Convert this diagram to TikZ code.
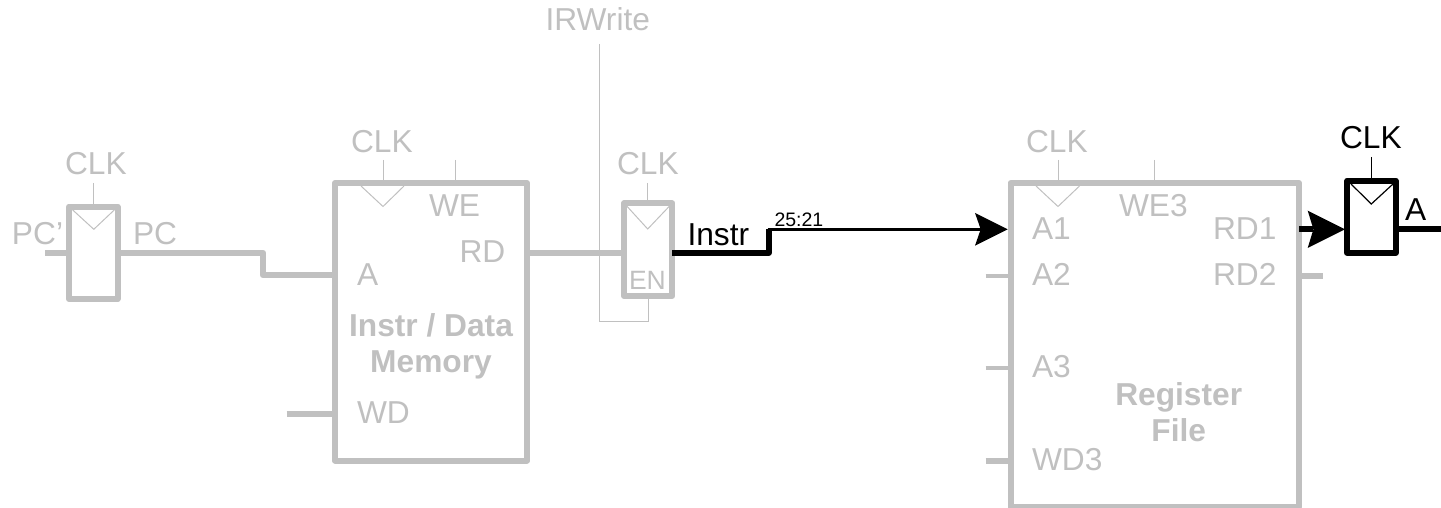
\documentclass[tikz,border=0pt]{standalone}
\usepackage{fontspec}
\setmainfont{Liberation Sans}
\usetikzlibrary{arrows.meta}
\definecolor{dim}{HTML}{C0C0C0}
\tikzset{
  x=1pt,y=-1pt,
  boxbase/.style={draw,rectangle,inner sep=0pt,outer sep=0pt,line width=6pt,line join=round,anchor=north west},
  greybox/.style={boxbase,draw=dim},
  blackbox/.style={boxbase,draw=black},
  wire/.style={dim,line width=6pt,line join=round},
  midwire/.style={dim,line width=3.6pt},
  hair/.style={dim,line width=1pt,line join=miter},
  blackhair/.style={black,line width=1.2pt,line join=miter},
  lab/.style={anchor=base west,inner sep=0pt,outer sep=0pt,font=\fontsize{31.7}{36}\selectfont,text=dim},
  blab/.style={lab,text=black},
  titlelab/.style={anchor=base,inner sep=0pt,outer sep=0pt,font=\fontsize{31.7}{36}\selectfont\bfseries,text=dim},
  bigtip/.style={-{Stealth[length=#1,width=#1,inset=5.7pt,line width=0pt]}}
}
\begin{document}
\begin{tikzpicture}
\useasboundingbox (0,0) rectangle (1441,508);
% boxes
\node[greybox,minimum width=48.5pt,minimum height=92.5pt] (pcreg) at (69,206.5) {};
\node[greybox,minimum width=192pt,minimum height=277.5pt] (mem) at (335,183) {};
\node[greybox,minimum width=48.3pt,minimum height=92.7pt] (irreg) at (624,203.3) {};
\node[greybox,minimum width=288.5pt,minimum height=324pt] (rf) at (1010.5,183) {};
\node[blackbox,minimum width=48.4pt,minimum height=72pt] (areg) at (1347.3,180.7) {};
% free ends
\coordinate (pcin) at (45,252.7);
\coordinate (bend1) at (263,252.7);
\coordinate (bend2) at (263,275.4);
\coordinate (wdin) at (286.5,414);
\coordinate (rdy) at (560,252.7);
\coordinate (irtop) at (599.3,44);
\coordinate (irbot) at (599.3,321.7);
\coordinate (bend3) at (768.7,252.7);
\coordinate (bend4) at (768.7,229.3);
\coordinate (a2in) at (985.7,275.7);
\coordinate (a3in) at (985.7,368);
\coordinate (wd3in) at (985.7,460.7);
\coordinate (rd1y) at (1320,229.3);
\coordinate (rd2out) at (1322.7,275.7);
\coordinate (aout) at (1441,229.3);
\coordinate (c1) at (93.8,183);
\coordinate (c2) at (383,160);
\coordinate (c3) at (455,160);
\coordinate (c4) at (647.7,183);
\coordinate (c5) at (1058,160);
\coordinate (c6) at (1154.5,160);
\coordinate (c7) at (1371.3,157);
% grey wires
\draw[wire] (pcin) -- (pcin -| pcreg.west);
\draw[wire] (pcin -| pcreg.east) -- (bend1) -- (bend2) -- (bend2 -| mem.west);
\draw[wire] (wdin) -- (wdin -| mem.west);
\draw[wire] (rdy -| mem.east) -- (rdy -| irreg.west);
\draw[hair] (irtop) -- (irbot) -- (irbot -| irreg.south) -- (irreg.south);
\draw[hair] (c1) -- (c1 |- pcreg.north);
\draw[hair] (c2) -- (c2 |- mem.north);
\draw[hair] (c3) -- (c3 |- mem.north);
\draw[hair] (c4) -- (c4 |- irreg.north);
\draw[hair] (c5) -- (c5 |- rf.north);
\draw[hair] (c6) -- (c6 |- rf.north);
\draw[midwire] (a2in) -- (a2in -| rf.west);
\draw[midwire] (a3in) -- (a3in -| rf.west);
\draw[wire] (wd3in) -- (wd3in -| rf.west);
\draw[wire] (rd2out -| rf.east) -- (rd2out);
% clock triangles
\draw[hair] (72,209.3) -- (93.8,229.3) -- (115,209.3);
\draw[hair] (361,186) -- (383,206.5) -- (404,186);
\draw[hair] (627,206.3) -- (647.7,229) -- (669.3,206.3);
\draw[hair] (1036,186) -- (1058,206.5) -- (1079.5,186);
% black wires
\draw[wire,black] (bend3 -| irreg.east) -- (bend3) -- (bend4);
\draw[black,line width=3pt,bigtip=32.7pt,shorten >=2.8pt] (767.5,229.3) -- (bend4 -| rf.west);
\draw[wire,black,bigtip=37.3pt,shorten >=2.3pt] (rd1y -| rf.east) -- (rd1y -| areg.west);
\draw[wire,black] (aout -| areg.east) -- (aout);
\draw[blackhair] (c7) -- (c7 |- areg.north);
\draw[blackhair] (1351,184) -- (1371.3,204) -- (1393,184);
% labels
\node[lab] (tpcin) at (12,244) {PC'};
\node[lab] (tpc) at (133,244) {PC};
\node[lab] (tclk1) at (65,175) {CLK};
\node[lab] (tclk2) at (351,153) {CLK};
\node[lab] (twe) at (429,216) {WE};
\node[lab] (trd) at (459.5,262) {RD};
\node[lab] (ta) at (357,285) {A};
\node[lab] (twd) at (357,423) {WD};
\node[titlelab] (tmem1) at (431,336) {Instr / Data};
\node[titlelab] (tmem2) at (431,372) {Memory};
\node[lab] (tir) at (545.5,31) {IRWrite};
\node[lab] (tclk3) at (617,175) {CLK};
\node[lab,font=\fontsize{26.5}{30}\selectfont] (ten) at (629,289.3) {EN};
\node[blab] (tinstr) at (687.5,245) {Instr};
\node[blab,font=\fontsize{19.5}{24}\selectfont] (tbits) at (774.5,226) {25:21};
\node[lab] (tclk4) at (1026,153) {CLK};
\node[lab] (twe3) at (1119,216) {WE3};
\node[lab] (ta1) at (1032,239) {A1};
\node[lab] (ta2) at (1032,285) {A2};
\node[lab] (ta3) at (1032,377) {A3};
\node[lab] (twd3) at (1032,470) {WD3};
\node[lab] (trd1) at (1213,239) {RD1};
\node[lab] (trd2) at (1213,285) {RD2};
\node[titlelab] (trf1) at (1178.7,405) {Register};
\node[titlelab] (trf2) at (1178.7,441.7) {File};
\node[blab] (tclk5) at (1340,149) {CLK};
\node[blab] (taq) at (1405,220.7) {A};
\end{tikzpicture}
\end{document}
